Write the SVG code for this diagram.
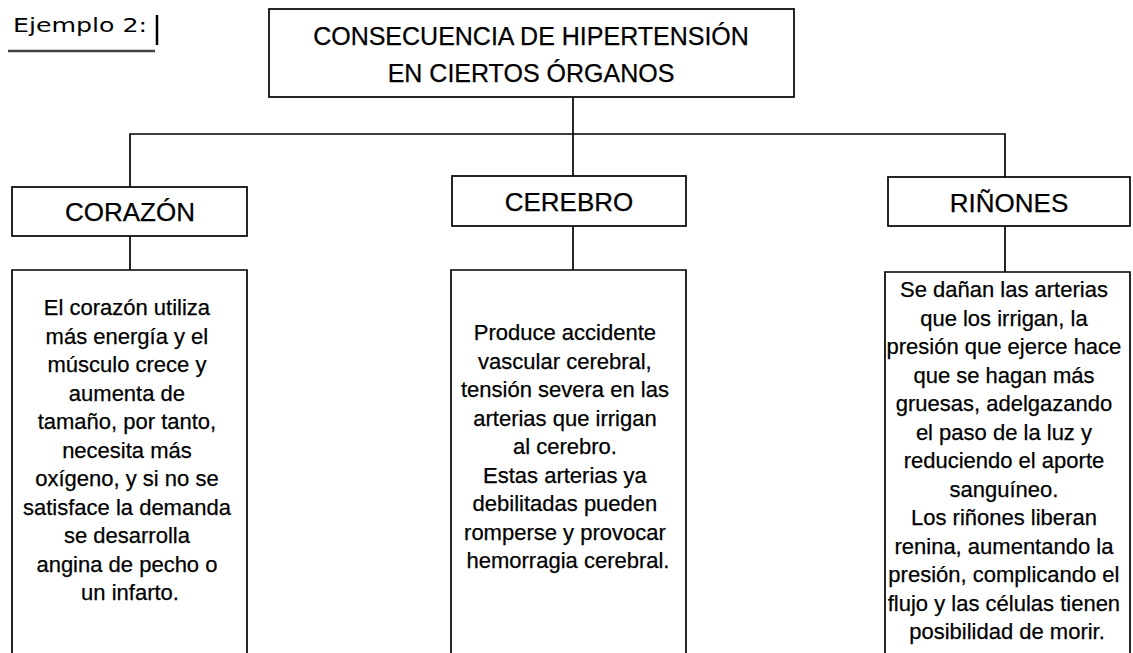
<svg xmlns="http://www.w3.org/2000/svg" width="1133" height="653" viewBox="0 0 1133 653">
<style>
.box{fill:#fff;stroke:#000;stroke-width:1.7}
.ln{stroke:#000;stroke-width:1.7;fill:none}
.t{font-family:"Liberation Sans",Arial,Helvetica,sans-serif;fill:#000;stroke:#000;stroke-width:0.25;text-anchor:middle}
.title{font-size:25px}
.head{font-size:26px}
.body{font-size:22px}
</style>
<rect width="1133" height="653" fill="#fff"/>
<g id="label">
<text x="13" y="32" font-family="'DejaVu Sans',sans-serif" font-size="19" textLength="134" lengthAdjust="spacingAndGlyphs" fill="#000">Ejemplo 2:</text>
<line x1="157" y1="15" x2="157" y2="45" stroke="#000" stroke-width="2.5"/>
<line x1="8" y1="51" x2="155" y2="51" stroke="#444" stroke-width="2.5"/>
</g>
<g id="connectors">
<line class="ln" x1="573" y1="97" x2="573" y2="176"/>
<polyline class="ln" points="130,187 130,134 1005,134 1005,177"/>
<line class="ln" x1="130" y1="236" x2="130" y2="270"/>
<line class="ln" x1="573" y1="226" x2="573" y2="270"/>
<line class="ln" x1="1005" y1="226" x2="1005" y2="272"/>
</g>
<g id="title">
<rect class="box" x="269" y="9" width="525" height="88"/>
<text class="t title" x="531" y="45">CONSECUENCIA DE HIPERTENSIÓN</text>
<text class="t title" x="531" y="82">EN CIERTOS ÓRGANOS</text>
</g>
<g id="corazon">
<rect class="box" x="12" y="187" width="235" height="49"/>
<text class="t head" x="130" y="221">CORAZÓN</text>
</g>
<g id="cerebro">
<rect class="box" x="452" y="176" width="234" height="50"/>
<text class="t head" x="569" y="211">CEREBRO</text>
</g>
<g id="rinones">
<rect class="box" x="888" y="177" width="242" height="49"/>
<text class="t head" x="1009" y="212">RIÑONES</text>
</g>
<g id="corazon-text">
<path class="ln" d="M12,660 V270 H247 V660"/>
<text class="t body">
<tspan x="130" y="315">El corazón utiliza</tspan>
<tspan x="130" y="343.5">más energía y el</tspan>
<tspan x="130" y="372">músculo crece y</tspan>
<tspan x="130" y="400.5">aumenta de</tspan>
<tspan x="130" y="429">tamaño, por tanto,</tspan>
<tspan x="130" y="457.5">necesita más</tspan>
<tspan x="130" y="486">oxígeno, y si no se</tspan>
<tspan x="130" y="514.5">satisface la demanda</tspan>
<tspan x="130" y="543">se desarrolla</tspan>
<tspan x="130" y="571.5">angina de pecho o</tspan>
<tspan x="130" y="600">un infarto.</tspan>
</text>
</g>
<g id="cerebro-text">
<path class="ln" d="M451,660 V270 H686 V660"/>
<text class="t body">
<tspan x="568" y="340">Produce accidente</tspan>
<tspan x="568" y="368.5">vascular cerebral,</tspan>
<tspan x="568" y="397">tensión severa en las</tspan>
<tspan x="568" y="425.5">arterias que irrigan</tspan>
<tspan x="568" y="454">al cerebro.</tspan>
<tspan x="568" y="482.5">Estas arterias ya</tspan>
<tspan x="568" y="511">debilitadas pueden</tspan>
<tspan x="568" y="539.5">romperse y provocar</tspan>
<tspan x="568" y="568">hemorragia cerebral.</tspan>
</text>
</g>
<g id="rinones-text">
<path class="ln" d="M885,660 V272 H1130 V660"/>
<text class="t body">
<tspan x="1007" y="297">Se dañan las arterias</tspan>
<tspan x="1007" y="325.5">que los irrigan, la</tspan>
<tspan x="1007" y="354">presión que ejerce hace</tspan>
<tspan x="1007" y="382.5">que se hagan más</tspan>
<tspan x="1007" y="411">gruesas, adelgazando</tspan>
<tspan x="1007" y="439.5">el paso de la luz y</tspan>
<tspan x="1007" y="468">reduciendo el aporte</tspan>
<tspan x="1007" y="496.5">sanguíneo.</tspan>
<tspan x="1007" y="525">Los riñones liberan</tspan>
<tspan x="1007" y="553.5">renina, aumentando la</tspan>
<tspan x="1007" y="582">presión, complicando el</tspan>
<tspan x="1007" y="610.5">flujo y las células tienen</tspan>
<tspan x="1007" y="639">posibilidad de morir.</tspan>
</text>
</g>
</svg>
